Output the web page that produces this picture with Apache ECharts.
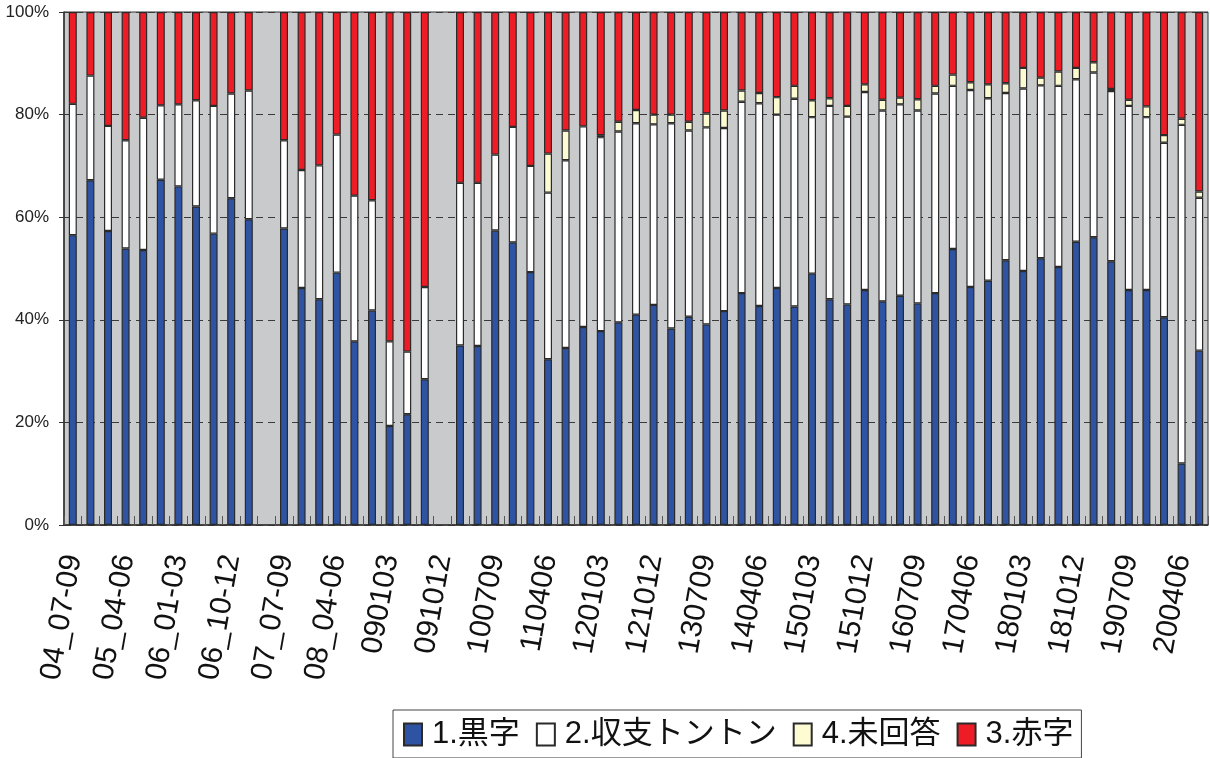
<!DOCTYPE html>
<html>
<head>
<meta charset="utf-8">
<script src="https://cdn.jsdelivr.net/npm/echarts@6/dist/echarts.min.js"></script>
<style>
html,body{margin:0;padding:0;background:#fff;}
#chart{width:1210px;height:758px;}
</style>
</head>
<body>
<div id="chart"></div>
<script>
const categories = [
  '04_07-09','04_10-12','05_01-03','05_04-06','05_07-09','05_10-12','06_01-03','06_04-06','06_07-09','06_10-12',
  '07_01-03','07_04-06','07_07-09','07_10-12','08_01-03','08_04-06','08_07-09','08_10-12',
  '090103','090406','090709','091012','100103','100406','100709','101012','110103','110406','110709','111012',
  '120103','120406','120709','121012','130103','130406','130709','131012','140103','140406','140709','141012',
  '150103','150406','150709','151012','160103','160406','160709','161012','170103','170406','170709','171012',
  '180103','180406','180709','181012','190103','190406','190709','191012','200103','200406','200709'
];
const seriesNames = ['1.黒字', '2.収支トントン', '4.未回答', '3.赤字'];
// 1.黒字
const black = [
  56.5,67.2,57.3,53.9,53.6,67.3,66.0,62.1,56.8,63.7,
  59.6,null,57.8,46.2,44.0,49.2,35.8,41.8,19.3,21.6,
  28.4,null,35.0,34.9,57.4,55.1,49.3,32.3,34.5,38.6,
  37.8,39.5,41.0,42.9,38.3,40.6,39.1,41.7,45.2,42.7,
  46.2,42.6,49.0,44.0,43.0,45.8,43.6,44.7,43.2,45.2,
  53.8,46.4,47.6,51.6,49.5,52.0,50.3,55.2,56.1,51.4,
  45.8,45.8,40.5,12.0,34.0
];
// 2.収支トントン
const even = [
  25.6,20.4,20.5,21.1,25.8,14.5,16.0,20.7,24.9,20.4,
  25.1,null,17.2,23.0,26.1,26.9,28.4,21.5,16.5,12.2,
  18.0,null,31.7,31.8,14.8,22.5,20.7,32.5,36.6,39.1,
  37.8,37.2,37.3,35.2,40.0,36.3,38.4,35.7,37.3,39.5,
  33.8,40.5,30.5,37.7,36.6,38.6,37.2,37.3,37.6,38.9,
  31.8,38.4,35.6,32.6,35.6,33.7,35.3,31.7,32.1,33.2,
  35.9,33.7,34.0,66.0,29.8
];
// 4.未回答
const noAnswer = [
  null,null,null,null,null,null,null,null,null,null,
  null,null,null,null,null,null,null,null,null,null,
  null,null,null,null,null,null,null,7.6,5.8,null,
  0.4,1.9,2.6,1.9,1.7,1.7,2.7,3.4,2.2,2.0,
  3.4,2.5,3.3,1.5,2.1,1.5,2.1,1.3,2.2,1.5,
  2.2,1.5,2.7,1.9,4.0,1.5,2.8,2.2,2.0,0.4,
  1.2,2.1,1.5,1.2,1.2
];
// 3.赤字
const red = [
  17.9,12.4,22.2,25.0,20.6,18.2,18.0,17.2,18.3,15.9,
  15.3,null,25.0,30.8,29.9,23.9,35.8,36.7,64.2,66.2,
  53.6,null,33.3,33.3,27.8,22.4,30.0,27.6,23.1,22.3,
  24.0,21.4,19.1,20.0,20.0,21.4,19.8,19.2,15.3,15.8,
  16.6,14.4,17.2,16.8,18.3,14.1,17.1,16.7,17.0,14.4,
  12.2,13.7,14.1,13.9,10.9,12.8,11.6,10.9,9.8,15.0,
  17.1,18.4,24.0,20.8,35.0
];
const yTicks = [0, 20, 40, 60, 80, 100];

const colors = ['#2f53a3', '#ffffff', '#fdfbd2', '#ee1c25'];
const dataSets = [black, even, noAnswer, red];

const chart = echarts.init(document.getElementById('chart'), null, {renderer: 'canvas'});
const series = seriesNames.map((name, k) => ({
  name: name,
  type: 'bar',
  stack: 'total',
  data: dataSets[k],
  barWidth: 8,
  itemStyle: {color: colors[k], borderColor: '#2a2a2a', borderWidth: 1.2},
  emphasis: {disabled: true},
  animation: false
}));

chart.setOption({
  animation: false,
  grid: {
    left: 64, right: 2, top: 12, bottom: 233,
    show: true, backgroundColor: '#c9cacc', borderColor: '#333', borderWidth: 1
  },
  legend: {
    data: seriesNames,
    icon: 'rect',
    left: 393, top: 710,
    width: 720,
    padding: [9, 8, 8, 10],
    itemGap: 16,
    itemWidth: 18, itemHeight: 22,
    borderColor: '#444', borderWidth: 1,
    backgroundColor: '#fff',
    selectedMode: false,
    textStyle: {fontSize: 31, color: '#111', fontFamily: '"Liberation Sans", "Noto Sans CJK JP"', padding: [0, 0, 0, 5]}
  },
  xAxis: {
    type: 'category',
    data: categories,
    boundaryGap: true,
    axisLine: {lineStyle: {color: '#333', width: 1.5}},
    axisTick: {show: true, inside: true, length: 9, interval: 0, alignWithLabel: false, lineStyle: {color: '#555'}},
    axisLabel: {interval: 2, rotate: 80, margin: 30, fontSize: 30, color: '#111', fontFamily: '"Liberation Sans", Arial'},
    splitLine: {show: false}
  },
  yAxis: {
    type: 'value',
    min: yTicks[0], max: yTicks[yTicks.length - 1], interval: 20,
    axisLine: {show: true, lineStyle: {color: '#333', width: 1.5}},
    axisTick: {show: true, length: 5, lineStyle: {color: '#333'}},
    axisLabel: {formatter: '{value}%', fontSize: 17, color: '#222', margin: 15, fontFamily: '"Liberation Sans", Arial'},
    splitLine: {show: true, lineStyle: {color: '#3a3a3a', type: [7, 5], width: 1}}
  },
  series: series
});
</script>
</body>
</html>
